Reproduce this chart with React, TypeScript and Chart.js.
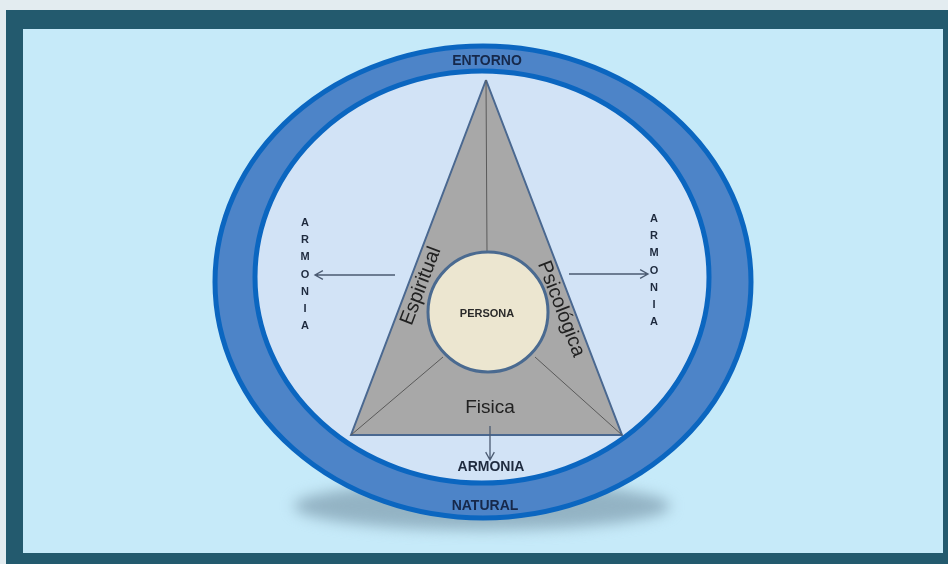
import React, { useEffect, useRef } from "react";
import { Chart, registerables } from "chart.js";

Chart.register(...registerables);

// Content of the diagram
const ringLabels = ["ENTORNO", "NATURAL"];
const dimensionLabels = ["Espiritual", "Psicológica", "Fisica"];
const centerLabel = "PERSONA";
const harmonyLabel = "ARMONIA";

// Geometry in chart units (x: 0..948, y: 0..564 top-down)
const triangleX = [486, 622, 351, 486];
const triangleY = [80, 435, 435, 80];
const spokeFromX = [487, 443, 535];
const spokeFromY = [253, 357, 357];
const spokeToX = [486, 351, 622];
const spokeToY = [80, 435, 435];
const circleCenter = [488, 312];
const circleRadius = [60];

const FONT = "'Liberation Sans', Arial, Helvetica, sans-serif";

export default function App() {
  const ref = useRef<HTMLCanvasElement | null>(null);

  useEffect(() => {
    const canvas = ref.current;
    if (!canvas) return;

    const backgroundPlugin = {
      id: "ellipses",
      beforeDatasetsDraw(chart: any) {
        const { ctx } = chart;
        const sx = chart.scales.x;
        const sy = chart.scales.y;
        const px = (v: number) => sx.getPixelForValue(v);
        const py = (v: number) => sy.getPixelForValue(v);
        const len = (v: number) => Math.abs(sx.getPixelForValue(v) - sx.getPixelForValue(0));
        const leny = (v: number) => Math.abs(sy.getPixelForValue(v) - sy.getPixelForValue(0));
        ctx.save();
        // shadow
        ctx.filter = "blur(7px)";
        ctx.fillStyle = "#93b3c4";
        ctx.beginPath();
        ctx.ellipse(px(482), py(506), len(188), leny(24), 0, 0, Math.PI * 2);
        ctx.fill();
        ctx.filter = "none";
        // outer ring
        ctx.fillStyle = "#4d84c8";
        ctx.strokeStyle = "#0b66c0";
        ctx.lineWidth = 5;
        ctx.beginPath();
        ctx.ellipse(px(483), py(282), len(268), leny(236), 0, 0, Math.PI * 2);
        ctx.fill();
        ctx.stroke();
        // inner ellipse
        ctx.fillStyle = "#d2e3f6";
        ctx.beginPath();
        ctx.ellipse(px(482), py(277), len(227), leny(206), 0, 0, Math.PI * 2);
        ctx.fill();
        ctx.stroke();
        ctx.restore();
      },
      afterDatasetsDraw(chart: any) {
        const { ctx } = chart;
        const sx = chart.scales.x;
        const sy = chart.scales.y;
        const px = (v: number) => sx.getPixelForValue(v);
        const py = (v: number) => sy.getPixelForValue(v);
        ctx.save();
        ctx.textAlign = "center";
        ctx.textBaseline = "middle";

        // ring labels
        ctx.fillStyle = "#16284a";
        ctx.font = `bold 14px ${FONT}`;
        ctx.fillText(ringLabels[0], px(487), py(61));
        ctx.fillText(ringLabels[1], px(485), py(506));

        // center label
        ctx.fillStyle = "#2a2a2a";
        ctx.font = `bold 11px ${FONT}`;
        ctx.fillText(centerLabel, px(487), py(314));

        // dimension labels
        ctx.fillStyle = "#222222";
        ctx.font = `20px ${FONT}`;
        ctx.save();
        ctx.translate(px(421), py(286));
        ctx.rotate(-69 * Math.PI / 180);
        ctx.fillText(dimensionLabels[0], 0, 0);
        ctx.restore();
        ctx.save();
        ctx.translate(px(561), py(309));
        ctx.rotate(69 * Math.PI / 180);
        ctx.fillText(dimensionLabels[1], 0, 0);
        ctx.restore();
        ctx.font = `19px ${FONT}`;
        ctx.fillText(dimensionLabels[2], px(490), py(408));

        // bottom harmony label
        ctx.fillStyle = "#1e2a3e";
        ctx.font = `bold 14px ${FONT}`;
        ctx.fillText(harmonyLabel, px(491), py(467));

        // vertical harmony labels
        ctx.font = `bold 11px ${FONT}`;
        const letters = harmonyLabel.split("");
        letters.forEach((ch, i) => {
          ctx.fillText(ch, px(305), py(223 + i * 17.2));
          ctx.fillText(ch, px(654), py(219 + i * 17.2));
        });

        // arrows
        ctx.strokeStyle = "#4b5b72";
        ctx.lineWidth = 1.3;
        const arrow = (x1: number, y1: number, x2: number, y2: number) => {
          const a = Math.atan2(py(y2) - py(y1), px(x2) - px(x1));
          ctx.beginPath();
          ctx.moveTo(px(x1), py(y1));
          ctx.lineTo(px(x2), py(y2));
          ctx.moveTo(px(x2) - 9 * Math.cos(a - 0.5), py(y2) - 9 * Math.sin(a - 0.5));
          ctx.lineTo(px(x2), py(y2));
          ctx.lineTo(px(x2) - 9 * Math.cos(a + 0.5), py(y2) - 9 * Math.sin(a + 0.5));
          ctx.stroke();
        };
        arrow(395, 275, 315, 275);
        arrow(569, 274, 648, 274);
        arrow(490, 426, 490, 460);
        ctx.restore();
      },
    };

    const pts = (xs: number[], ys: number[]) => xs.map((x, i) => ({ x, y: ys[i] }));

    const datasets: any[] = [
      {
        type: "bubble",
        data: [{ x: circleCenter[0], y: circleCenter[1], r: circleRadius[0] }],
        backgroundColor: "#ece6d0",
        borderColor: "#4a6a90",
        borderWidth: 3,
        clip: false,
        order: 0,
      },
      ...spokeFromX.map((_, i) => ({
        type: "scatter",
        showLine: true,
        data: [
          { x: spokeFromX[i], y: spokeFromY[i] },
          { x: spokeToX[i], y: spokeToY[i] },
        ],
        borderColor: "#5a5a5a",
        borderWidth: 1,
        pointRadius: 0,
        fill: false,
        order: 1,
      })),
      {
        type: "scatter",
        showLine: true,
        data: pts(triangleX, triangleY),
        borderColor: "#4a6890",
        backgroundColor: "#a8a8a8",
        borderWidth: 2,
        pointRadius: 0,
        fill: "shape",
        tension: 0,
        order: 2,
      },
    ];

    const chart = new Chart(canvas, {
      type: "scatter",
      data: { datasets },
      options: {
        animation: false,
        responsive: false,
        maintainAspectRatio: false,
        devicePixelRatio: 1,
        events: [],
        layout: { padding: 0, autoPadding: false },
        plugins: { legend: { display: false }, tooltip: { enabled: false } },
        scales: {
          x: { type: "linear", min: 0, max: 948, display: false },
          y: { type: "linear", min: 0, max: 564, reverse: true, display: false },
        },
      },
      plugins: [backgroundPlugin],
    } as any);

    return () => chart.destroy();
  }, []);

  return (
    <div style={{ position: "fixed", left: 0, top: 0, width: 948, height: 564, background: "#e3ecf0", overflow: "hidden" }}>
      <div style={{ position: "absolute", left: 6, top: 10, width: 942, height: 554, background: "#235a6e" }} />
      <div style={{ position: "absolute", left: 23, top: 29, width: 920, height: 524, background: "#c6eaf9" }} />
      <canvas ref={ref} width={948} height={564} style={{ position: "absolute", left: 0, top: 0, width: 948, height: 564 }} />
    </div>
  );
}
